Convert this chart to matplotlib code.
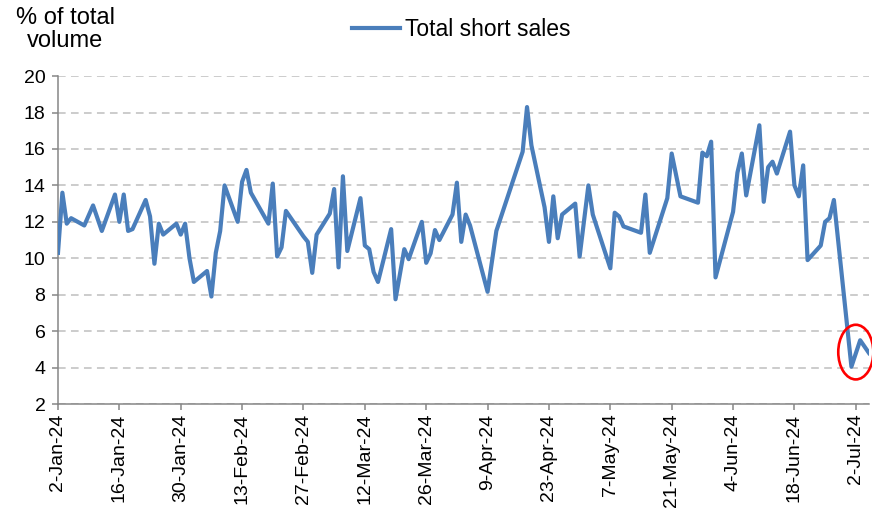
import matplotlib
matplotlib.use("Agg")
import matplotlib.pyplot as plt
import matplotlib.dates as mdates
from matplotlib.patches import Ellipse
import pandas as pd

# Short sales as % of total volume, turning points
dates = [
    "2024-01-02", "2024-01-03", "2024-01-04", "2024-01-05", "2024-01-08",
    "2024-01-10", "2024-01-12", "2024-01-15", "2024-01-16", "2024-01-17",
    "2024-01-18", "2024-01-19", "2024-01-22", "2024-01-23", "2024-01-24",
    "2024-01-25", "2024-01-26", "2024-01-29", "2024-01-30", "2024-01-31",
    "2024-02-01", "2024-02-02", "2024-02-05", "2024-02-06", "2024-02-07",
    "2024-02-08", "2024-02-09", "2024-02-12", "2024-02-13", "2024-02-14",
    "2024-02-15", "2024-02-19", "2024-02-20", "2024-02-21", "2024-02-22",
    "2024-02-23", "2024-02-27", "2024-02-28", "2024-02-29", "2024-03-01",
    "2024-03-04", "2024-03-05", "2024-03-06", "2024-03-07", "2024-03-08",
    "2024-03-11", "2024-03-12", "2024-03-13", "2024-03-14", "2024-03-15",
    "2024-03-18", "2024-03-19", "2024-03-21", "2024-03-22", "2024-03-25",
    "2024-03-26", "2024-03-27", "2024-03-28", "2024-03-29", "2024-04-01",
    "2024-04-02", "2024-04-03", "2024-04-04", "2024-04-05", "2024-04-09",
    "2024-04-11", "2024-04-17", "2024-04-18", "2024-04-19", "2024-04-22",
    "2024-04-23", "2024-04-24", "2024-04-25", "2024-04-26", "2024-04-29",
    "2024-04-30", "2024-05-02", "2024-05-03", "2024-05-07", "2024-05-08",
    "2024-05-09", "2024-05-10", "2024-05-14", "2024-05-15", "2024-05-16",
    "2024-05-20", "2024-05-21", "2024-05-23", "2024-05-27", "2024-05-28",
    "2024-05-29", "2024-05-30", "2024-05-31", "2024-06-04", "2024-06-05",
    "2024-06-06", "2024-06-07", "2024-06-10", "2024-06-11", "2024-06-12",
    "2024-06-13", "2024-06-14", "2024-06-17", "2024-06-18", "2024-06-19",
    "2024-06-20", "2024-06-21", "2024-06-24", "2024-06-25", "2024-06-26",
    "2024-06-27", "2024-07-01", "2024-07-03", "2024-07-05",
]
short_sales = [
    10.3, 13.6, 11.9, 12.2, 11.8,
    12.9, 11.5, 13.5, 12.0, 13.5,
    11.5, 11.6, 13.2, 12.3, 9.7,
    11.9, 11.3, 11.9, 11.3, 11.9,
    10.0, 8.7, 9.3, 7.9, 10.3,
    11.5, 14.0, 12.0, 14.2, 14.85,
    13.6, 11.9, 14.1, 10.1, 10.6,
    12.6, 11.2, 10.9, 9.2, 11.3,
    12.45, 13.8, 9.5, 14.5, 10.4,
    13.3, 10.7, 10.5, 9.25, 8.7,
    11.6, 7.75, 10.5, 9.95, 12.0,
    9.75, 10.27, 11.55, 11.0, 12.4,
    14.15, 10.9, 12.4, 11.8, 8.16,
    11.5, 15.85, 18.3, 16.2, 12.8,
    10.9, 13.4, 11.1, 12.4, 13.0,
    10.1, 14.0, 12.4, 9.45, 12.5,
    12.3, 11.75, 11.4, 13.5, 10.3,
    13.3, 15.75, 13.4, 13.05, 15.8,
    15.6, 16.4, 8.95, 12.55, 14.7,
    15.75, 13.45, 17.3, 13.1, 15.0,
    15.3, 14.65, 16.95, 14.0, 13.4,
    15.1, 9.9, 10.7, 12.0, 12.2,
    13.2, 4.05, 5.5, 4.8,
]
tick_dates = [
    "2024-01-02", "2024-01-16", "2024-01-30", "2024-02-13", "2024-02-27",
    "2024-03-12", "2024-03-26", "2024-04-09", "2024-04-23", "2024-05-07",
    "2024-05-21", "2024-06-04", "2024-06-18", "2024-07-02",
]
tick_labels = [
    "2-Jan-24", "16-Jan-24", "30-Jan-24", "13-Feb-24", "27-Feb-24",
    "12-Mar-24", "26-Mar-24", "9-Apr-24", "23-Apr-24", "7-May-24",
    "21-May-24", "4-Jun-24", "18-Jun-24", "2-Jul-24",
]

plt.rcParams["font.family"] = ["Liberation Sans", "DejaVu Sans"]
plt.rcParams["font.size"] = 14

x = pd.to_datetime(dates)
fig = plt.figure(figsize=(8.72, 5.23), dpi=100)
ax = fig.add_axes([0.0665, 0.2275, 0.930, 0.627])

line, = ax.plot(x, short_sales, color="#4A7EBB", lw=3.0,
                solid_joinstyle="round", label="Total short sales", zorder=3)

ax.set_xlim(pd.Timestamp("2024-01-02"), pd.Timestamp("2024-07-05"))
ax.set_ylim(2, 20)
ax.set_yticks(range(2, 21, 2))
ax.set_xticks(pd.to_datetime(tick_dates))
ax.set_xticklabels(tick_labels, rotation=90, va="top", ha="center")

ax.grid(axis="y", color="#BFBFBF", lw=1.1, linestyle=(0, (5, 3.5)))
ax.set_axisbelow(True)
for side in ("top", "right"):
    ax.spines[side].set_visible(False)
for side in ("left", "bottom"):
    ax.spines[side].set_color("#868686")
    ax.spines[side].set_linewidth(1.1)
ax.tick_params(axis="both", color="#868686", width=1.1, length=4,
               labelcolor="black")
ax.tick_params(axis="y", pad=5)
ax.tick_params(axis="x", pad=3)

# red circle around the latest readings
circle = Ellipse((mdates.date2num(pd.Timestamp("2024-07-02")), 4.85),
                 width=8.0, height=3.0, fill=False, edgecolor="#FF0000",
                 lw=1.9, clip_on=False, zorder=4)
ax.add_patch(circle)

fig.text(0.075, 0.943, "% of total\nvolume", ha="center", va="center",
         fontsize=17, linespacing=1.05)
fig.legend(handles=[line], loc="center", bbox_to_anchor=(0.529, 0.943),
           frameon=False, fontsize=16.5, handlelength=2.1, handletextpad=0.25)

fig.savefig("out.png", dpi=100)
